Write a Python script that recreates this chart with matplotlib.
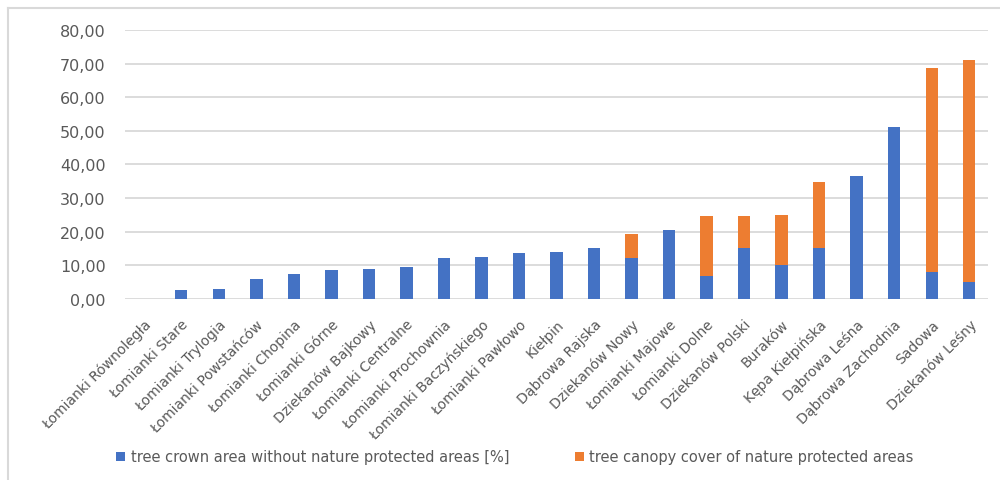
import matplotlib.pyplot as plt
import numpy as np
from matplotlib.lines import Line2D
from matplotlib.ticker import FuncFormatter

districts = ["Łomianki Równoległa", "Łomianki Stare", "Łomianki Trylogia",
             "Łomianki Powstańców", "Łomianki Chopina", "Łomianki Górne",
             "Dziekanów Bajkowy", "Łomianki Centralne", "Łomianki Prochownia",
             "Łomianki Baczyńskiego", "Łomianki Pawłowo", "Kiełpin",
             "Dąbrowa Rajska", "Dziekanów Nowy", "Łomianki Majowe",
             "Łomianki Dolne", "Dziekanów Polski", "Buraków", "Kępa Kiełpińska",
             "Dąbrowa Leśna", "Dąbrowa Zachodnia", "Sadowa", "Dziekanów Leśny"]

crown_without_protected = [0.0, 2.7, 3.0, 5.8, 7.4, 8.6, 8.9, 9.6, 12.1, 12.4,
                           13.6, 14.1, 15.3, 12.1, 20.4, 6.9, 15.3, 10.2, 15.3,
                           36.6, 51.1, 8.0, 5.0]
canopy_protected = [0.0, 0.0, 0.0, 0.0, 0.0, 0.0, 0.0, 0.0, 0.0, 0.0,
                    0.0, 0.0, 0.0, 7.1, 0.0, 17.8, 9.4, 14.8, 19.6,
                    0.0, 0.0, 60.6, 66.1]

label_blue = "tree crown area without nature protected areas [%]"
label_orange = "tree canopy cover of nature protected areas"

BLUE = '#4472C4'
ORANGE = '#ED7D31'
GRID = '#D9D9D9'
TEXT = '#595959'

fig = plt.figure(figsize=(10, 4.81), dpi=100)
ax = fig.add_axes([0.125, 0.3763, 0.863, 0.5593])

x = np.arange(len(districts))
width = 0.33
b1 = ax.bar(x, crown_without_protected, width, color=BLUE, zorder=3,
            label=label_blue)
b2 = ax.bar(x, canopy_protected, width, bottom=crown_without_protected,
            color=ORANGE, zorder=3, label=label_orange)

ax.set_xlim(-0.5, len(districts) - 0.5)
ax.set_ylim(0, 80)
ax.set_yticks(np.arange(0, 81, 10))
ax.yaxis.set_major_formatter(FuncFormatter(lambda v, p: '{:.2f}'.format(v).replace('.', ',')))
ax.grid(axis='y', color=GRID, linewidth=1.3, zorder=0)
for s in ax.spines.values():
    s.set_visible(False)
ax.tick_params(axis='both', length=0, colors=TEXT)
ax.tick_params(axis='y', labelsize=11.5, pad=14)
ax.set_xticks(x)
ax.set_xticklabels(districts, rotation=45, ha='right', rotation_mode='anchor',
                   fontsize=10, color=TEXT)
ax.tick_params(axis='x', pad=13)

fig.legend(handles=[b1, b2], loc='center', bbox_to_anchor=(0.515, 0.048), ncol=2,
           frameon=False, fontsize=10.5, labelcolor=TEXT, handlelength=0.6,
           handleheight=0.6, handletextpad=0.4, columnspacing=4.5)

# outer chart border (only top and left visible in the crop)
fig.add_artist(Line2D([0.008, 0.008], [0.0, 0.981], color=GRID, lw=1.5,
                      transform=fig.transFigure))
fig.add_artist(Line2D([0.008, 1.0], [0.981, 0.981], color=GRID, lw=1.5,
                      transform=fig.transFigure))

fig.savefig('out.png', dpi=100)
